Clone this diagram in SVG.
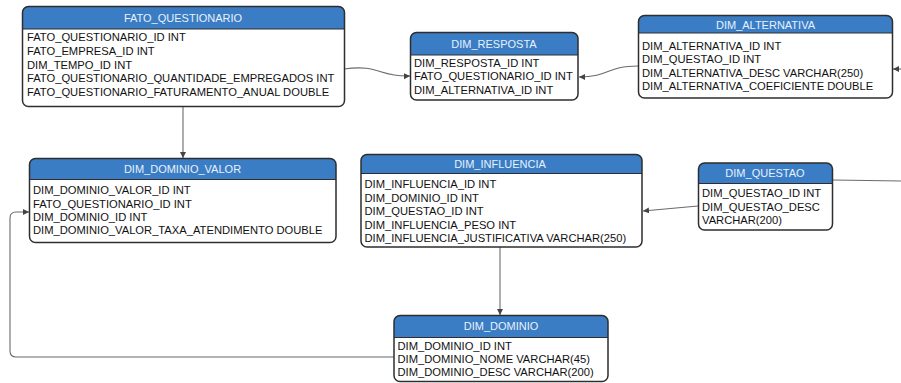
<svg xmlns="http://www.w3.org/2000/svg" width="901" height="383" viewBox="0 0 901 383">
<defs>
<style>
.bg{fill:#ffffff}
.box{fill:#ffffff}
.hdr{fill:#3a7dc5}
.frame{fill:none;stroke:#2e2e2e;stroke-width:1.5}
.sep{stroke:#2e2e2e;stroke-width:1}
.title{font-family:"Liberation Sans",Arial,sans-serif;font-size:11px;fill:#e9f1fa;text-anchor:middle}
.row{font-family:"Liberation Sans",Arial,sans-serif;font-size:11.2px;fill:#111111}
.conn{fill:none;stroke:#6b6b6b;stroke-width:1.1}
</style>
<marker id="arr" markerWidth="7" markerHeight="7" refX="6" refY="3" orient="auto" markerUnits="userSpaceOnUse">
<path d="M0,0 L6,3 L0,6 z" fill="#444"/>
</marker>
</defs>
<rect class="bg" x="0" y="0" width="901" height="383"/>

<g id="connectors">
<path class="conn" d="M344,69 C380,64 378,77 410,76" marker-end="url(#arr)"/>
<path class="conn" d="M638,66 C606,66 610,77 579,77" marker-end="url(#arr)"/>
<path class="conn" d="M901,69 L893,69" marker-end="url(#arr)"/>
<path class="conn" d="M183,107 L183,158" marker-end="url(#arr)"/>
<path class="conn" d="M698,206 L643,211" marker-end="url(#arr)"/>
<path class="conn" d="M833,180 L901,181"/>
<path class="conn" d="M500,247 L500,315" marker-end="url(#arr)"/>
<path class="conn" d="M394,357 L16,357 Q10,357 10,351 L10,218 Q10,212 16,212 L29,212" marker-end="url(#arr)"/>
</g>

<g id="FATO_QUESTIONARIO">
<rect class="box" x="22.5" y="6.5" width="322" height="100" rx="6"/>
<path class="hdr" d="M22.5,29 V12.5 Q22.5,6.5 28.5,6.5 H338.5 Q344.5,6.5 344.5,12.5 V29 Z"/>
<line class="sep" x1="22.5" y1="29" x2="344.5" y2="29"/>
<rect class="frame" x="22.5" y="6.5" width="322" height="100" rx="6"/>
<text class="title" x="183" y="22">FATO_QUESTIONARIO</text>
<text class="row" x="27" y="41">FATO_QUESTIONARIO_ID INT</text>
<text class="row" x="27" y="54.8">FATO_EMPRESA_ID INT</text>
<text class="row" x="27" y="68.6">DIM_TEMPO_ID INT</text>
<text class="row" x="27" y="82.4">FATO_QUESTIONARIO_QUANTIDADE_EMPREGADOS INT</text>
<text class="row" x="27" y="96">FATO_QUESTIONARIO_FATURAMENTO_ANUAL DOUBLE</text>
</g>

<g id="DIM_RESPOSTA">
<rect class="box" x="410.5" y="32.5" width="167.5" height="67.5" rx="6"/>
<path class="hdr" d="M410.5,55 V38.5 Q410.5,32.5 416.5,32.5 H572 Q578,32.5 578,38.5 V55 Z"/>
<line class="sep" x1="410.5" y1="55" x2="578" y2="55"/>
<rect class="frame" x="410.5" y="32.5" width="167.5" height="67.5" rx="6"/>
<text class="title" x="494" y="47.5">DIM_RESPOSTA</text>
<text class="row" x="414" y="66.7">DIM_RESPOSTA_ID INT</text>
<text class="row" x="414" y="80.3">FATO_QUESTIONARIO_ID INT</text>
<text class="row" x="414" y="93.6">DIM_ALTERNATIVA_ID INT</text>
</g>

<g id="DIM_ALTERNATIVA">
<rect class="box" x="638.5" y="15.5" width="254" height="82.5" rx="6"/>
<path class="hdr" d="M638.5,33 V21.5 Q638.5,15.5 644.5,15.5 H886.5 Q892.5,15.5 892.5,21.5 V33 Z"/>
<line class="sep" x1="638.5" y1="33" x2="892.5" y2="33"/>
<rect class="frame" x="638.5" y="15.5" width="254" height="82.5" rx="6"/>
<text class="title" x="765.5" y="28.5">DIM_ALTERNATIVA</text>
<text class="row" x="642" y="49.7">DIM_ALTERNATIVA_ID INT</text>
<text class="row" x="642" y="63.2">DIM_QUESTAO_ID INT</text>
<text class="row" x="642" y="76.6">DIM_ALTERNATIVA_DESC VARCHAR(250)</text>
<text class="row" x="642" y="90">DIM_ALTERNATIVA_COEFICIENTE DOUBLE</text>
</g>

<g id="DIM_DOMINIO_VALOR">
<rect class="box" x="29.5" y="158.5" width="306.5" height="84" rx="6"/>
<path class="hdr" d="M29.5,179.5 V164.5 Q29.5,158.5 35.5,158.5 H330 Q336,158.5 336,164.5 V179.5 Z"/>
<line class="sep" x1="29.5" y1="179.5" x2="336" y2="179.5"/>
<rect class="frame" x="29.5" y="158.5" width="306.5" height="84" rx="6"/>
<text class="title" x="182.5" y="173">DIM_DOMINIO_VALOR</text>
<text class="row" x="33" y="194.3">DIM_DOMINIO_VALOR_ID INT</text>
<text class="row" x="33" y="207.5">FATO_QUESTIONARIO_ID INT</text>
<text class="row" x="33" y="220.6">DIM_DOMINIO_ID INT</text>
<text class="row" x="33" y="233.7">DIM_DOMINIO_VALOR_TAXA_ATENDIMENTO DOUBLE</text>
</g>

<g id="DIM_INFLUENCIA">
<rect class="box" x="361" y="154.5" width="281" height="92.5" rx="6"/>
<path class="hdr" d="M361,173.5 V160.5 Q361,154.5 367,154.5 H636 Q642,154.5 642,160.5 V173.5 Z"/>
<line class="sep" x1="361" y1="173.5" x2="642" y2="173.5"/>
<rect class="frame" x="361" y="154.5" width="281" height="92.5" rx="6"/>
<text class="title" x="500" y="168">DIM_INFLUENCIA</text>
<text class="row" x="364.5" y="188.4">DIM_INFLUENCIA_ID INT</text>
<text class="row" x="364.5" y="201.8">DIM_DOMINIO_ID INT</text>
<text class="row" x="364.5" y="215.2">DIM_QUESTAO_ID INT</text>
<text class="row" x="364.5" y="228.6">DIM_INFLUENCIA_PESO INT</text>
<text class="row" x="364.5" y="242">DIM_INFLUENCIA_JUSTIFICATIVA VARCHAR(250)</text>
</g>

<g id="DIM_QUESTAO">
<rect class="box" x="698.5" y="163" width="134" height="67" rx="6"/>
<path class="hdr" d="M698.5,183.5 V169 Q698.5,163 704.5,163 H826.5 Q832.5,163 832.5,169 V183.5 Z"/>
<line class="sep" x1="698.5" y1="183.5" x2="832.5" y2="183.5"/>
<rect class="frame" x="698.5" y="163" width="134" height="67" rx="6"/>
<text class="title" x="765" y="177">DIM_QUESTAO</text>
<text class="row" x="702" y="197.4">DIM_QUESTAO_ID INT</text>
<text class="row" x="702" y="210.8">DIM_QUESTAO_DESC</text>
<text class="row" x="702" y="224">VARCHAR(200)</text>
</g>

<g id="DIM_DOMINIO">
<rect class="box" x="394" y="315.5" width="214" height="66" rx="6"/>
<path class="hdr" d="M394,337.5 V321.5 Q394,315.5 400,315.5 H602 Q608,315.5 608,321.5 V337.5 Z"/>
<line class="sep" x1="394" y1="337.5" x2="608" y2="337.5"/>
<rect class="frame" x="394" y="315.5" width="214" height="66" rx="6"/>
<text class="title" x="501" y="330">DIM_DOMINIO</text>
<text class="row" x="397.5" y="349.5">DIM_DOMINIO_ID INT</text>
<text class="row" x="397.5" y="362.8">DIM_DOMINIO_NOME VARCHAR(45)</text>
<text class="row" x="397.5" y="376">DIM_DOMINIO_DESC VARCHAR(200)</text>
</g>
</svg>
